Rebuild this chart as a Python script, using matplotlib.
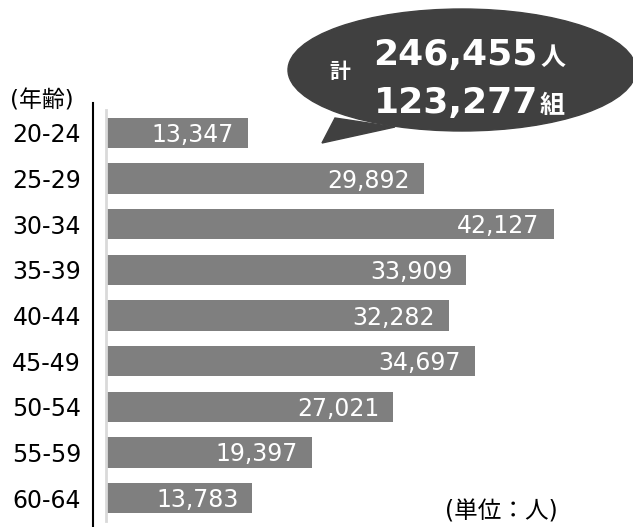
import matplotlib.pyplot as plt
from matplotlib.patches import Ellipse, Polygon

plt.rcParams['font.family'] = ['DejaVu Sans', 'Noto Sans CJK JP']

# データ
age_groups = ['20-24', '25-29', '30-34', '35-39', '40-44', '45-49', '50-54', '55-59', '60-64']
counts = [13347, 29892, 42127, 33909, 32282, 34697, 27021, 19397, 13783]
total_people = '246,455'
total_pairs = '123,277'

W, H = 633, 527
fig = plt.figure(figsize=(W / 100, H / 100), dpi=100)

# 棒グラフ
ax = fig.add_axes([106 / W, 1 - 521 / H, 510 / W, (521 - 110) / H])
ax.barh(range(len(counts)), counts, height=0.66, color='#7f7f7f')
ax.set_ylim(len(counts) - 0.5, -0.5)
ax.set_xlim(0, 48000)
ax.set_yticks(range(len(age_groups)))
ax.set_yticklabels(age_groups, fontsize=17)
ax.tick_params(axis='y', length=0, pad=18)
ax.set_xticks([])
for s in ['top', 'right', 'bottom']:
    ax.spines[s].set_visible(False)
ax.spines['left'].set_color('#d9d9d9')
ax.spines['left'].set_linewidth(2)

for i, v in enumerate(counts):
    ax.annotate(f'{v:,}', xy=(v, i), xytext=(-14, -2), textcoords='offset pixels',
                ha='right', va='center', color='white', fontsize=17)

# 重ねる座標系 (ピクセル)
ov = fig.add_axes([0, 0, 1, 1], zorder=5)
ov.set_xlim(0, W)
ov.set_ylim(H, 0)
ov.axis('off')
ov.patch.set_alpha(0)

# 黒い縦線
ov.plot([93, 93], [103, H], color='black', linewidth=1.5)

ov.text(10, 101, '(年齢)', fontsize=16.5, ha='left', va='center')
ov.text(558, 511, '(単位：人)', fontsize=17, ha='right', va='center')

# 吹き出し
bubble_color = '#404040'
ov.add_patch(Ellipse((462, 70), 348, 122, color=bubble_color))
ov.add_patch(Polygon([(335, 118), (322, 143), (395, 127)], closed=True, color=bubble_color))

ov.text(340, 72, '計', fontsize=15, fontweight='bold', color='white', ha='center', va='center')
ov.text(538, 65, total_people, fontsize=26, fontweight='bold', color='white', ha='right', va='baseline')
ov.text(540, 65, '人', fontsize=18, fontweight='bold', color='white', ha='left', va='baseline')
ov.text(538, 113, total_pairs, fontsize=26, fontweight='bold', color='white', ha='right', va='baseline')
ov.text(540, 113, '組', fontsize=18, fontweight='bold', color='white', ha='left', va='baseline')

fig.savefig('out.png', dpi=100)
